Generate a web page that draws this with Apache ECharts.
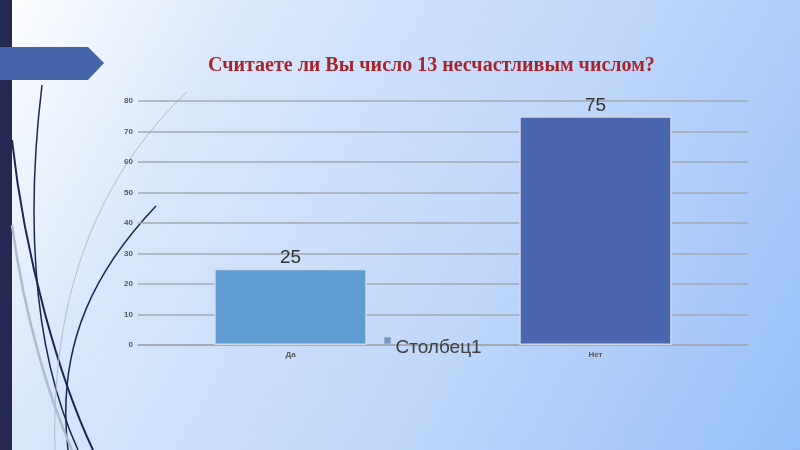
<!DOCTYPE html>
<html>
<head>
<meta charset="utf-8">
<script src="https://cdn.jsdelivr.net/npm/echarts@6/dist/echarts.min.js"></script>
<style>
  html, body { margin: 0; padding: 0; }
  #chart { width: 800px; height: 450px; }
</style>
</head>
<body>
<div id="chart"></div>
<script>
// данные
const categories = ['Да', 'Нет'];
const values = [25, 75];
const barColors = ['#5f9cd1', '#4966ae'];
const seriesName = 'Столбец1';
const titleText = 'Считаете ли Вы число 13 несчастливым числом?';

const chart = echarts.init(document.getElementById('chart'));

// декоративные кривые слева
const curves = [
  { x1: 12, y1: 140, cpx1: 25, cpy1: 260, cpx2: 60, cpy2: 380, x2: 93, y2: 450, color: '#1f2550', w: 2 },
  { x1: 42, y1: 85, cpx1: 28, cpy1: 200, cpx2: 28, cpy2: 340, x2: 78, y2: 450, color: '#1f2550', w: 1.5 },
  { x1: 156, y1: 206, cpx1: 100, cpy1: 265, cpx2: 55, cpy2: 340, x2: 68, y2: 450, color: '#1f2550', w: 1.5 },
  { x1: 187, y1: 92, cpx1: 115, cpy1: 160, cpx2: 50, cpy2: 270, x2: 55, y2: 450, color: '#b4bdca', w: 1 },
  { x1: 12, y1: 225, cpx1: 25, cpy1: 320, cpx2: 50, cpy2: 400, x2: 72, y2: 450, color: '#b0bccd', w: 2.5 }
];

const option = {
  backgroundColor: {
    type: 'linear', x: 0, y: 0, x2: 1, y2: 1,
    colorStops: [
      { offset: 0, color: '#ffffff' },
      { offset: 0.25, color: '#d8e7fb' },
      { offset: 0.6, color: '#c0d8fb' },
      { offset: 0.8, color: '#abcbf8' },
      { offset: 1, color: '#96bff7' }
    ]
  },
  animation: false,
  title: {
    text: titleText,
    left: 203,
    top: 51,
    textStyle: {
      fontFamily: 'Liberation Serif',
      fontWeight: 'bold',
      fontSize: 20,
      color: '#a8232a'
    }
  },
  legend: {
    data: [seriesName],
    left: 379,
    top: 332,
    // маленький квадратик сверху, как в оригинале
    icon: 'path://M0,0L6,0L6,6L0,6Z M0,20L0.01,20',
    itemWidth: 6,
    itemHeight: 20,
    itemGap: 4,
    itemStyle: { color: '#5f9cd1', borderColor: '#a0a8b4', borderWidth: 1 },
    textStyle: { fontFamily: 'Liberation Sans', fontSize: 19, color: '#404040' }
  },
  grid: { left: 138, right: 52, top: 101, bottom: 105 },
  xAxis: {
    type: 'category',
    data: categories,
    axisLine: { show: true, lineStyle: { color: '#a0a8b4', width: 1.5 } },
    axisTick: { show: false },
    axisLabel: { fontSize: 8, fontWeight: 'bold', color: '#595959', margin: 6, fontFamily: 'Liberation Sans' }
  },
  yAxis: {
    type: 'value',
    min: 0,
    max: 80,
    interval: 10,
    axisLine: { show: false },
    axisTick: { show: false },
    axisLabel: { fontSize: 8, fontWeight: 'bold', color: '#595959', margin: 5, fontFamily: 'Liberation Sans' },
    splitLine: { lineStyle: { color: '#a0a8b4', width: 1.5 } }
  },
  series: [
    {
      name: seriesName,
      type: 'bar',
      barWidth: '50%',
      data: values.map((v, i) => ({ value: v, itemStyle: { color: barColors[i] } })),
      itemStyle: { borderColor: '#d2d9e6', borderWidth: 1.5 },
      label: {
        show: true,
        position: 'top',
        distance: 1,
        fontSize: 19,
        color: '#333333',
        fontFamily: 'Liberation Sans'
      }
    }
  ],
  graphic: [
    { type: 'rect', z: -10, shape: { x: 0, y: 0, width: 12, height: 450 }, style: { fill: '#252850' } },
    ...curves.map(c => ({
      type: 'bezierCurve', z: -9,
      shape: { x1: c.x1, y1: c.y1, cpx1: c.cpx1, cpy1: c.cpy1, cpx2: c.cpx2, cpy2: c.cpy2, x2: c.x2, y2: c.y2 },
      style: { stroke: c.color, lineWidth: c.w, fill: null }
    })),
    { type: 'polygon', z: -8, shape: { points: [[0, 47], [88, 47], [104, 63], [88, 80], [0, 80]] }, style: { fill: '#4565ab' } }
  ]
};

chart.setOption(option);
</script>
</body>
</html>
